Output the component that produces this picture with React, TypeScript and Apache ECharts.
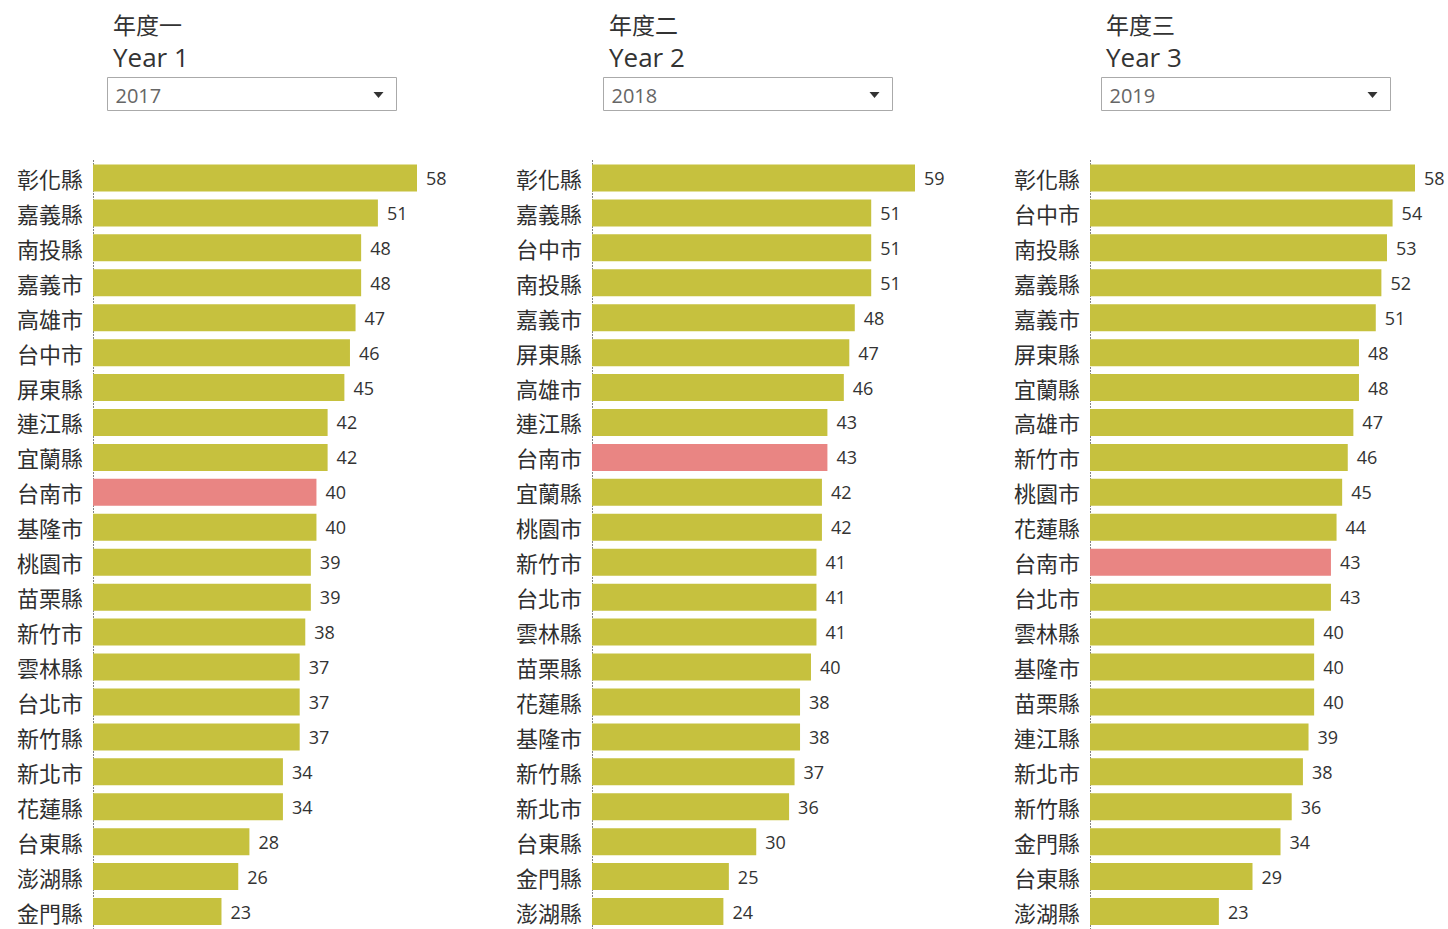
import React, { useEffect, useRef } from "react";
import * as echarts from "echarts";

const headerZh = ["年度一", "年度二", "年度三"];
const headerEn = ["Year 1", "Year 2", "Year 3"];
const yearOptions = ["2017", "2018", "2019"];

const cat1 = ["彰化縣", "嘉義縣", "南投縣", "嘉義市", "高雄市", "台中市", "屏東縣", "連江縣", "宜蘭縣", "台南市", "基隆市", "桃園市", "苗栗縣", "新竹市", "雲林縣", "台北市", "新竹縣", "新北市", "花蓮縣", "台東縣", "澎湖縣", "金門縣"];
const val1 = [58, 51, 48, 48, 47, 46, 45, 42, 42, 40, 40, 39, 39, 38, 37, 37, 37, 34, 34, 28, 26, 23];

const cat2 = ["彰化縣", "嘉義縣", "台中市", "南投縣", "嘉義市", "屏東縣", "高雄市", "連江縣", "台南市", "宜蘭縣", "桃園市", "新竹市", "台北市", "雲林縣", "苗栗縣", "花蓮縣", "基隆市", "新竹縣", "新北市", "台東縣", "金門縣", "澎湖縣"];
const val2 = [59, 51, 51, 51, 48, 47, 46, 43, 43, 42, 42, 41, 41, 41, 40, 38, 38, 37, 36, 30, 25, 24];

const cat3 = ["彰化縣", "台中市", "南投縣", "嘉義縣", "嘉義市", "屏東縣", "宜蘭縣", "高雄市", "新竹市", "桃園市", "花蓮縣", "台南市", "台北市", "雲林縣", "基隆市", "苗栗縣", "連江縣", "新北市", "新竹縣", "金門縣", "台東縣", "澎湖縣"];
const val3 = [58, 54, 53, 52, 51, 48, 48, 47, 46, 45, 44, 43, 43, 40, 40, 40, 39, 38, 36, 34, 29, 23];

const highlight = "台南市";

const BAR = "#c6c13e";
const HL = "#e98583";
const CJK = "'Noto Sans CJK TC', 'Noto Sans', sans-serif";
const LAT = "'Open Sans', 'Noto Sans', sans-serif";

export default function App() {
  const ref = useRef<HTMLDivElement>(null);
  useEffect(() => {
    if (!ref.current) return;
    const chart = echarts.init(ref.current, null, { renderer: "svg" });
    const cats = [cat1, cat2, cat3];
    const vals = [val1, val2, val3];
    const lefts = [93, 592, 1090];
    const widths = [324, 323, 325];
    const dropX = [107.5, 603.5, 1101.5];
    const headX = [113, 609, 1106];
    const rowH = 35.24;
    const top = 160.5;

    const grids = lefts.map((l, i) => ({
      left: l,
      top,
      width: widths[i],
      height: rowH * cats[i].length,
      containLabel: false,
    }));
    const xAxes = vals.map((v, i) => ({
      type: "value",
      gridIndex: i,
      min: 0,
      max: Math.max(...v),
      show: false,
    }));
    const yAxes = cats.map((c, i) => ({
      type: "category",
      gridIndex: i,
      data: c,
      inverse: true,
      axisTick: { show: false },
      axisLine: { show: true, lineStyle: { color: "#777", type: [1, 2], width: 1 } },
      axisLabel: { color: "#2f2f2f", fontSize: 22, fontFamily: CJK, margin: 10 },
      splitLine: { show: false },
    }));
    const series = vals.map((v, i) => ({
      type: "bar",
      xAxisIndex: i,
      yAxisIndex: i,
      barWidth: 27,
      data: v.map((x, j) => ({
        value: x,
        itemStyle: { color: cats[i][j] === highlight ? HL : BAR },
      })),
      label: {
        show: true,
        position: "right",
        distance: 9,
        color: "#333",
        fontSize: 18,
        fontFamily: LAT,
      },
    }));

    const graphics: any[] = [];
    for (let i = 0; i < 3; i++) {
      graphics.push({
        type: "text",
        x: headX[i],
        y: 24,
        style: { text: headerZh[i], fontSize: 23, fontFamily: CJK, fill: "#333", textVerticalAlign: "middle" },
      });
      graphics.push({
        type: "text",
        x: headX[i],
        y: 57,
        style: { text: headerEn[i], fontSize: 26, fontFamily: LAT, fill: "#333", textVerticalAlign: "middle" },
      });
      graphics.push({
        type: "rect",
        shape: { x: dropX[i], y: 77.5, width: 289, height: 33 },
        style: { fill: "#fff", stroke: "#aaa", lineWidth: 1 },
      });
      graphics.push({
        type: "text",
        x: dropX[i] + 8,
        y: 95,
        style: { text: yearOptions[i], fontSize: 20, fontFamily: LAT, fill: "#666", textVerticalAlign: "middle" },
      });
      const ax = dropX[i] + 271;
      graphics.push({
        type: "polygon",
        shape: { points: [[ax - 5, 92], [ax + 5, 92], [ax, 98]] },
        style: { fill: "#333" },
      });
    }

    chart.setOption({
      animation: false,
      backgroundColor: "#fff",
      grid: grids,
      xAxis: xAxes,
      yAxis: yAxes,
      series,
      graphic: graphics,
    } as any);
    return () => chart.dispose();
  }, []);
  return (
    <div
      ref={ref}
      style={{ position: "absolute", left: 0, top: 0, width: 1448, height: 929 }}
    />
  );
}
